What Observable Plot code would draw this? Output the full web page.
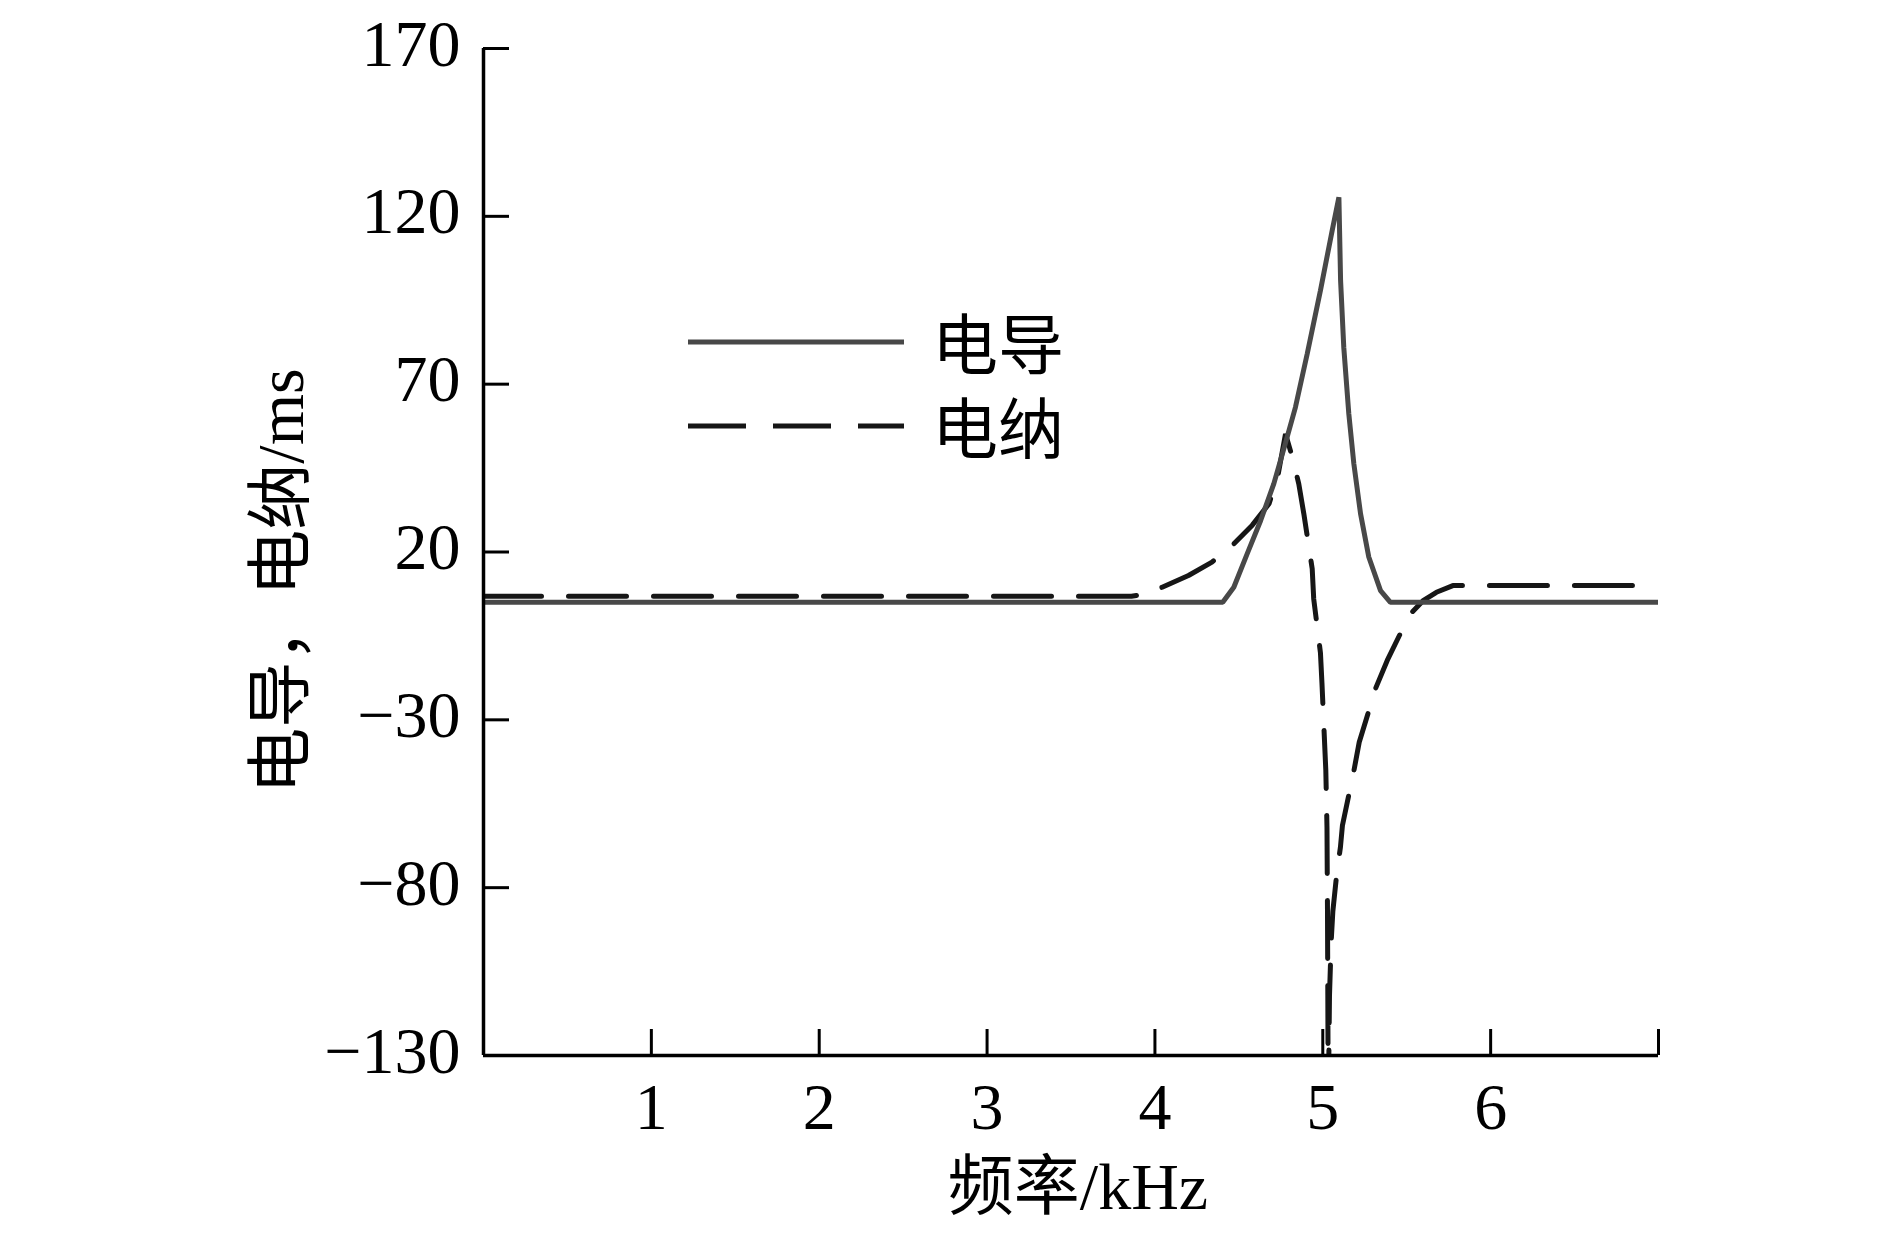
<!DOCTYPE html>
<html>
<head>
<meta charset="utf-8">
<script src="https://cdn.jsdelivr.net/npm/d3@7"></script>
<script src="https://cdn.jsdelivr.net/npm/@observablehq/plot@0.6"></script>
<style>
  html, body { margin: 0; padding: 0; background: #fff; }
  #chart { width: 1891px; height: 1234px; }
</style>
</head>
<body>
<div id="chart"></div>
<script>
// ---- data ----
const seriesNames = ["电导", "电纳"];
const xTitle = "频率/kHz";
const yTitle = "电导，电纳/ms";

// 电导 (conductance), solid
const freqG = [0, 4.404, 4.47, 4.55, 4.63, 4.708, 4.778, 4.837, 4.907, 4.986, 5.056, 5.096, 5.106, 5.125, 5.155, 5.185, 5.225, 5.274, 5.344, 5.403, 7];
const valG  = [5, 5, 9.5, 19.5, 29.4, 40.3, 52.5, 63.1, 79, 97.9, 115.8, 125.7, 100.9, 81, 61.2, 46.3, 31.4, 18.5, 8.5, 5, 5];

// 电纳 (susceptance), dashed
const freqB = [0, 3.86, 3.96, 4.043, 4.2, 4.34, 4.47, 4.58, 4.68, 4.73, 4.778, 4.82, 4.857, 4.887, 4.937, 4.946, 4.986, 4.995, 5.01, 5.018, 5.025, 5.028, 5.03, 5.032, 5.034, 5.04, 5.05, 5.06, 5.085, 5.105, 5.117, 5.186, 5.217, 5.27, 5.314, 5.384, 5.46, 5.532, 5.6, 5.677, 5.775, 7];
const valB  = [6.8, 6.8, 7.6, 9.5, 13, 17, 22.4, 28, 34.4, 42, 55.2, 48, 40.3, 31.4, 15, 6, -10, -19, -36, -45, -62, -87, -112, -140, -140, -112, -96, -87, -75, -68, -61.5, -45, -36.7, -28, -20.7, -12.3, -4.5, 2.1, 5.6, 8, 10, 10];

const xTickValues = [1, 2, 3, 4, 5, 6, 7];
const xLabelValues = [1, 2, 3, 4, 5, 6];
const yTickValues = [-130, -80, -30, 20, 70, 120, 170];

// ---- tables built from the arrays ----
const dataG = freqG.map((f, i) => ({f, v: valG[i]}));
const dataB = freqB.map((f, i) => ({f, v: valB[i]}));

const fmt = d => d < 0 ? "\u2212" + Math.abs(d) : String(d);

const solidColor = "#484848";
const dashColor = "#161616";
const lineW = 5;
const dash = "58,27";

const legend = () => {
  const g = d3.create("svg:g");
  const x1 = 688, x2 = 904, tx = 932;
  const rows = [
    {y: 342, name: seriesNames[0], stroke: solidColor, dash: null},
    {y: 426, name: seriesNames[1], stroke: dashColor, dash: dash}
  ];
  for (const r of rows) {
    g.append("line")
      .attr("x1", x1).attr("x2", x2).attr("y1", r.y).attr("y2", r.y)
      .attr("stroke", r.stroke).attr("stroke-width", lineW)
      .attr("stroke-dasharray", r.dash);
    g.append("text")
      .attr("x", tx).attr("y", r.y + 27)
      .attr("fill", "#000")
      .attr("text-anchor", "start")
      .style("font-size", "66px")
      .text(r.name);
  }
  return g.node();
};

const chart = Plot.plot({
  width: 1891,
  height: 1234,
  marginLeft: 483,
  marginRight: 233,
  marginTop: 48,
  marginBottom: 179,
  style: {
    fontFamily: "'Liberation Serif', 'Noto Sans CJK SC', serif",
    fontSize: "66px",
    color: "#000",
    background: "#fff"
  },
  x: {domain: [0, 7], label: null},
  y: {domain: [-130, 170], label: null},
  marks: [
    // data
    Plot.line(dataB, {x: "f", y: "v", stroke: dashColor, strokeWidth: lineW, strokeDasharray: dash, strokeLinejoin: "miter", clip: true}),
    Plot.line(dataG, {x: "f", y: "v", stroke: solidColor, strokeWidth: lineW, strokeLinejoin: "miter", clip: true}),
    // axis lines
    Plot.ruleX([0], {stroke: "#000", strokeWidth: 3.5}),
    Plot.ruleY([-130], {stroke: "#000", strokeWidth: 3.5}),
    // inward ticks
    Plot.axisY(yTickValues, {anchor: "left", tickSize: -26, strokeWidth: 3, fill: "none", label: null}),
    Plot.axisX(xTickValues, {anchor: "bottom", tickSize: -26, strokeWidth: 3, fill: "none", label: null}),
    // tick labels
    Plot.axisY(yTickValues, {anchor: "left", tickSize: 0, tickPadding: 23, dy: -4, tickFormat: fmt, label: null}),
    Plot.axisX(xLabelValues, {anchor: "bottom", tickSize: 0, tickPadding: 27, tickFormat: fmt, label: null}),
    // axis titles
    Plot.text([xTitle], {frameAnchor: "bottom", textAnchor: "middle", lineAnchor: "middle", dx: 7, dy: 132, fill: "#000", fontSize: 66}),
    Plot.text([yTitle], {frameAnchor: "left", textAnchor: "middle", lineAnchor: "middle", dx: -202, dy: 29, rotate: -90, fill: "#000", fontSize: 66}),
    // legend inside the plot
    legend
  ]
});

document.getElementById("chart").appendChild(chart);
</script>
</body>
</html>
